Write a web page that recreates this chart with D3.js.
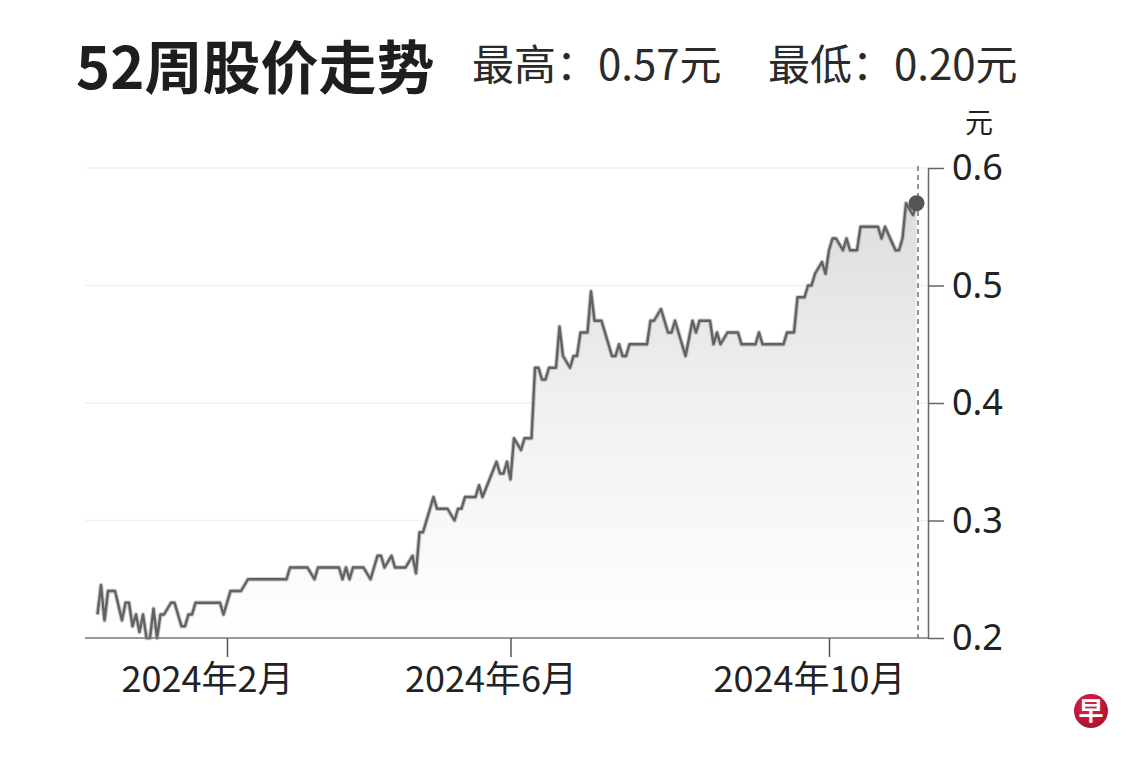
<!DOCTYPE html>
<html>
<head>
<meta charset="utf-8">
<script src="https://cdn.jsdelivr.net/npm/d3@7/dist/d3.min.js"></script>
<style>
  html, body { margin: 0; padding: 0; background: #fff; }
  svg { display: block; }
</style>
</head>
<body>
<svg id="chart" width="1140" height="760"></svg>
<script>
// ---- data (trading-day index, closing price in SGD) ----
const days = [0,1,2,3,5,7,8,9,10,11,12,13,14,15,16,17,18,19,21,22,24,25,26,27,28,35,36,38,41,43,54,55,60,62,63,69,70,71,72,73,76,78,80,81,82,84,85,88,90,91,92,93,96,97,100,102,103,104,105,108,109,110,114,115,116,117,118,119,121,122,124,125,126,127,128,129,131,132,133,135,136,137,138,140,141,142,144,147,148,149,150,151,152,157,158,159,161,163,164,165,166,168,170,171,172,175,176,177,178,180,183,184,188,189,190,196,197,199,200,202,203,204,205,207,208,209,210,211,213,214,215,217,218,223,224,225,228,229,230,231,232,233,234];
const prices = [0.22,0.245,0.215,0.24,0.24,0.215,0.23,0.23,0.21,0.22,0.205,0.22,0.20,0.20,0.225,0.20,0.22,0.22,0.23,0.23,0.21,0.21,0.22,0.22,0.23,0.23,0.22,0.24,0.24,0.25,0.25,0.26,0.26,0.25,0.26,0.26,0.25,0.26,0.25,0.26,0.26,0.25,0.27,0.27,0.26,0.27,0.26,0.26,0.27,0.255,0.29,0.29,0.32,0.31,0.31,0.30,0.31,0.31,0.32,0.32,0.33,0.32,0.35,0.34,0.34,0.35,0.335,0.37,0.36,0.37,0.37,0.43,0.43,0.42,0.42,0.43,0.43,0.465,0.44,0.43,0.44,0.44,0.46,0.46,0.495,0.47,0.47,0.44,0.44,0.45,0.44,0.44,0.45,0.45,0.47,0.47,0.48,0.46,0.46,0.47,0.46,0.44,0.47,0.46,0.47,0.47,0.45,0.46,0.45,0.46,0.46,0.45,0.45,0.46,0.45,0.45,0.46,0.46,0.49,0.49,0.50,0.50,0.51,0.52,0.51,0.53,0.54,0.54,0.53,0.54,0.53,0.53,0.55,0.55,0.54,0.55,0.53,0.53,0.54,0.57,0.565,0.56,0.57];
const xTickDays = [37, 118, 209];
const xTickLabels = ["2024年2月", "2024年6月", "2024年10月"];
const yTicks = [0.2, 0.3, 0.4, 0.5, 0.6];
const gridTicks = [0.3, 0.4, 0.5, 0.6];
const titleText = "52周股价走势";
const highText = "最高：0.57元";
const lowText = "最低：0.20元";
const unitText = "元";

const data = days.map((d, i) => ({ d, v: prices[i] }));

const svg = d3.select("#chart");
const plotLeft = 85, axisX = 928, plotTop = 168, plotBottom = 638;

const x = d3.scaleLinear().domain([0, 234]).range([97.5, 916.5]);
const y = d3.scaleLinear().domain([0.2, 0.6]).range([plotBottom, plotTop]);

const defs = svg.append("defs");
const grad = defs.append("linearGradient")
  .attr("id", "areaGrad").attr("gradientUnits", "userSpaceOnUse")
  .attr("x1", 0).attr("y1", plotTop).attr("x2", 0).attr("y2", plotBottom);
grad.append("stop").attr("offset", "0%").attr("stop-color", "#dadada");
grad.append("stop").attr("offset", "50%").attr("stop-color", "#f0f0f0");
grad.append("stop").attr("offset", "100%").attr("stop-color", "#ffffff");

const logoGrad = defs.append("radialGradient").attr("id", "logoGrad")
  .attr("cx", "40%").attr("cy", "35%").attr("r", "70%");
logoGrad.append("stop").attr("offset", "0%").attr("stop-color", "#e0244a");
logoGrad.append("stop").attr("offset", "100%").attr("stop-color", "#a8102e");

// grid
svg.append("g").selectAll("line").data(gridTicks).join("line")
  .attr("x1", plotLeft).attr("x2", axisX)
  .attr("y1", d => y(d)).attr("y2", d => y(d))
  .attr("stroke", "#f1f1f1").attr("stroke-width", 1.5);

// area
svg.append("path").datum(data)
  .attr("d", d3.area().x(p => x(p.d)).y0(plotBottom).y1(p => y(p.v)))
  .attr("fill", "url(#areaGrad)");

// dashed current marker
const last = data[data.length - 1];
svg.append("line")
  .attr("x1", x(last.d) + 1.5).attr("x2", x(last.d) + 1.5)
  .attr("y1", plotTop - 2).attr("y2", plotBottom)
  .attr("stroke", "#7a7a7a").attr("stroke-width", 1.6).attr("stroke-dasharray", "5,4");

// line
const lineGen = d3.line().x(p => x(p.d)).y(p => y(p.v));
svg.append("path").datum(data)
  .attr("d", lineGen)
  .attr("fill", "none").attr("stroke", "#a0a0a0").attr("stroke-width", 4.5).attr("stroke-linejoin", "round").attr("opacity", 0.55);
svg.append("path").datum(data)
  .attr("d", lineGen)
  .attr("fill", "none").attr("stroke", "#626262").attr("stroke-width", 2.4).attr("stroke-linejoin", "round");

// end dot
svg.append("circle").attr("cx", x(last.d)).attr("cy", y(last.v)).attr("r", 8).attr("fill", "#555");

// x axis baseline
svg.append("line").attr("x1", plotLeft).attr("x2", axisX).attr("y1", plotBottom).attr("y2", plotBottom)
  .attr("stroke", "#777").attr("stroke-width", 1.5);

// x axis ticks
const xAxis = d3.axisBottom(x).tickValues(xTickDays)
  .tickFormat((d, i) => xTickLabels[i]).tickSize(19).tickSizeOuter(0).tickPadding(9);
const gx = svg.append("g").attr("transform", `translate(0,${plotBottom})`).call(xAxis);
gx.select(".domain").remove();
gx.selectAll(".tick line").attr("stroke", "#555").attr("stroke-width", 1.5);
gx.selectAll(".tick text").attr("fill", "#222").attr("dx", -20)
  .style("font-family", "'Noto Sans CJK SC', sans-serif").style("font-size", "36px");

// y axis
const yAxis = d3.axisRight(y).tickValues(yTicks).tickFormat(d3.format(".1f"))
  .tickSize(16).tickSizeOuter(0).tickPadding(8);
const gy = svg.append("g").attr("transform", `translate(${axisX},0)`).call(yAxis);
gy.select(".domain").attr("stroke", "#666").attr("stroke-width", 1.5);
gy.selectAll(".tick line").attr("stroke", "#666").attr("stroke-width", 1.5);
gy.selectAll(".tick text").attr("fill", "#222")
  .style("font-family", "'Noto Sans', sans-serif").style("font-size", "36px");

// unit
svg.append("text").attr("x", 979).attr("y", 133).attr("text-anchor", "middle")
  .attr("fill", "#222").style("font-family", "'Noto Sans CJK SC', sans-serif").style("font-size", "28px")
  .text(unitText);

// title
svg.append("text").attr("x", 76).attr("y", 89)
  .attr("fill", "#1e1e1e").style("font-family", "'Noto Sans CJK SC', sans-serif")
  .style("font-size", "58px").style("font-weight", 700).text(titleText);
svg.append("text").attr("x", 472).attr("y", 80)
  .attr("fill", "#2a2a2a").style("font-family", "'Noto Sans CJK SC', sans-serif")
  .style("font-size", "42px").text(highText);
svg.append("text").attr("x", 768).attr("y", 80)
  .attr("fill", "#2a2a2a").style("font-family", "'Noto Sans CJK SC', sans-serif")
  .style("font-size", "42px").text(lowText);

// logo
svg.append("circle").attr("cx", 1091).attr("cy", 711).attr("r", 17).attr("fill", "url(#logoGrad)");
svg.append("text").attr("x", 1091).attr("y", 720).attr("text-anchor", "middle")
  .attr("fill", "#fff").style("font-family", "'Noto Sans CJK SC', sans-serif")
  .style("font-size", "25px").style("font-weight", 700).text("早");
</script>
</body>
</html>
